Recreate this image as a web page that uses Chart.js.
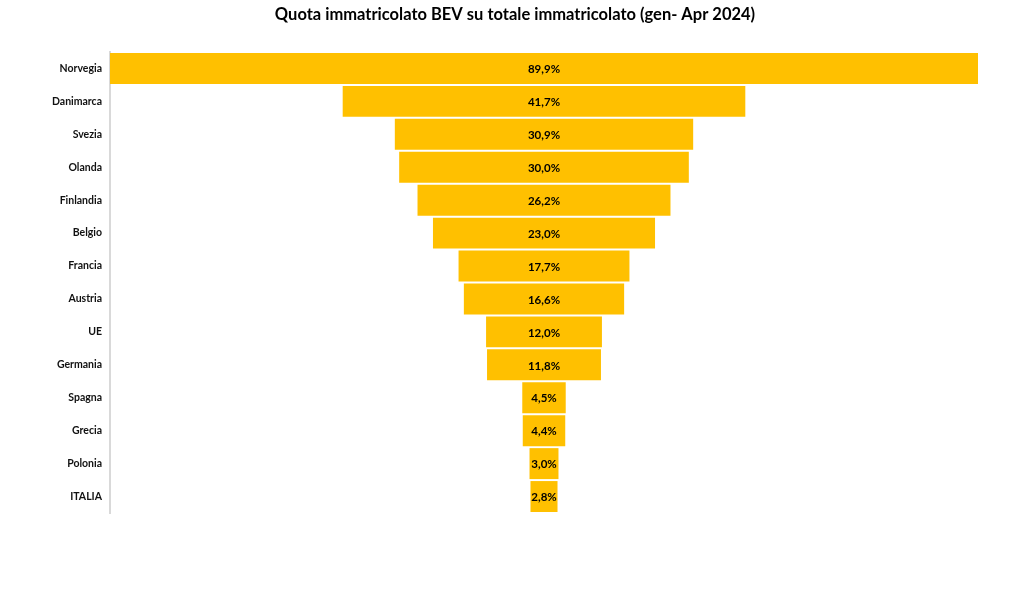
<!DOCTYPE html>
<html><head><meta charset="utf-8">
<script src="https://cdn.jsdelivr.net/npm/chart.js@4"></script>
<style>html,body{margin:0;padding:0;background:#fff}#wrap{width:1024px;height:608px}</style>
</head><body><div id="wrap"><canvas id="c"></canvas></div>
<script>
const titleText = 'Quota immatricolato BEV su totale immatricolato (gen- Apr 2024)';
const categories = ["Norvegia","Danimarca","Svezia","Olanda","Finlandia","Belgio","Francia","Austria","UE","Germania","Spagna","Grecia","Polonia","ITALIA"];
const values = [89.9,41.7,30.9,30.0,26.2,23.0,17.7,16.6,12.0,11.8,4.5,4.4,3.0,2.8];
const maxV = Math.max(...values);

const labelPlugin = {
  id:'centerLabels',
  afterDatasetsDraw(chart){
    const ctx = chart.ctx;
    const meta = chart.getDatasetMeta(0);
    ctx.save();
    ctx.font = 'bold 11.5px Lato, "Open Sans", sans-serif';
    ctx.fillStyle = '#000';
    ctx.textAlign = 'center';
    ctx.textBaseline = 'middle';
    meta.data.forEach((bar,i)=>{
      const p = bar.getProps(['x','base','y'],true);
      ctx.fillText(values[i].toFixed(1).replace('.',',')+'%', (p.x+p.base)/2, p.y+1);
    });
    ctx.restore();
  }
};
const titlePlugin = {
  id:'pageTitle',
  afterDraw(chart){
    const ctx = chart.ctx;
    ctx.save();
    ctx.font = 'bold 16.5px Lato, "Open Sans", sans-serif';
    ctx.fillStyle = '#000';
    ctx.textAlign = 'center';
    ctx.textBaseline = 'middle';
    ctx.fillText(titleText, chart.width/2 + 3, 15);
    ctx.restore();
  }
};

new Chart(document.getElementById('c'),{
  type:'bar',
  data:{labels:categories,datasets:[{data:values.map(v=>[-v/2,v/2]),backgroundColor:'#FFC000',borderWidth:0,barPercentage:0.94,categoryPercentage:1.0,borderSkipped:false}]},
  options:{
    indexAxis:'y',responsive:true,maintainAspectRatio:false,animation:false,
    layout:{padding:{left:0,right:46,top:52,bottom:95}},
    plugins:{legend:{display:false},tooltip:{enabled:false},title:{display:false}},
    scales:{
      x:{display:false,min:-maxV/2,max:maxV/2},
      y:{afterFit(s){s.width=110;},grid:{display:false,drawTicks:false},border:{display:true,color:'#d9d9d9',width:2},
        ticks:{color:'#111',padding:8,font:{family:'Lato, "Open Sans", sans-serif',size:10.5,weight:'bold'}}}
    }
  },
  plugins:[labelPlugin,titlePlugin]
});
</script></body></html>
